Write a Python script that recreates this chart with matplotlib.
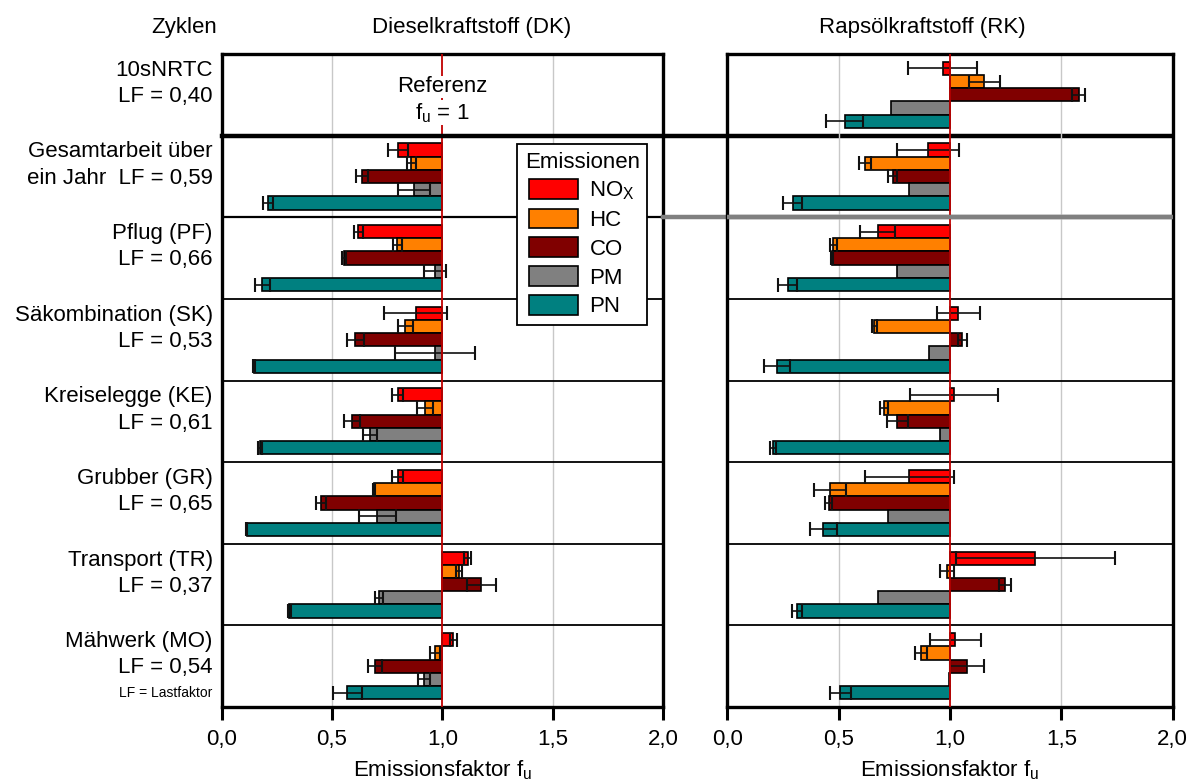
import matplotlib
matplotlib.use('Agg')
import matplotlib.pyplot as plt
import numpy as np
from matplotlib.transforms import blended_transform_factory

plt.rcParams['font.family'] = ['Liberation Sans', 'DejaVu Sans']
plt.rcParams['mathtext.fontset'] = 'custom'
plt.rcParams['mathtext.rm'] = 'Liberation Sans'
plt.rcParams['font.size'] = 16

# Zyklen (rows, top to bottom)
cycles = ['10sNRTC\nLF = 0,40', 'Gesamtarbeit über\nein Jahr  LF = 0,59',
          'Pflug (PF)\nLF = 0,66', 'Säkombination (SK)\nLF = 0,53',
          'Kreiselegge (KE)\nLF = 0,61', 'Grubber (GR)\nLF = 0,65',
          'Transport (TR)\nLF = 0,37', 'Mähwerk (MO)\nLF = 0,54']
species = ['NO$_\\mathregular{X}$', 'HC', 'CO', 'PM', 'PN']
colors = ['#ff0000', '#ff8000', '#800000', '#808080', '#008080']
nan = np.nan

# Dieselkraftstoff (DK) - first row is the reference
dk_nox = [nan, 0.80, 0.62, 0.88, 0.797, 0.797, 1.115, 1.05]
dk_nox_err = [nan, 0.045, 0.02, 0.143, 0.027, 0.023, 0.017, 0.017]
dk_hc = [nan, 0.86, 0.796, 0.832, 0.921, 0.69, 1.076, 0.967]
dk_hc_err = [nan, 0.02, 0.021, 0.035, 0.038, 0.003, 0.013, 0.024]
dk_co = [nan, 0.635, 0.554, 0.606, 0.590, 0.449, 1.177, 0.694]
dk_co_err = [nan, 0.027, 0.009, 0.039, 0.036, 0.023, 0.066, 0.032]
dk_pm = [nan, 0.87, 0.966, 0.966, 0.672, 0.705, 0.712, 0.917]
dk_pm_err = [nan, 0.072, 0.05, 0.181, 0.033, 0.084, 0.018, 0.026]
dk_pn = [nan, 0.21, 0.184, 0.146, 0.174, 0.113, 0.306, 0.570]
dk_pn_err = [nan, 0.023, 0.033, 0.004, 0.01, 0.003, 0.006, 0.064]

# Rapsölkraftstoff (RK)
rk_nox = [0.967, 0.90, 0.675, 1.037, 1.017, 0.817, 1.383, 1.024]
rk_nox_err = [0.156, 0.14, 0.079, 0.096, 0.197, 0.2, 0.357, 0.114]
rk_hc = [1.154, 0.618, 0.475, 0.66, 0.704, 0.46, 0.986, 0.87]
rk_hc_err = [0.071, 0.025, 0.016, 0.01, 0.019, 0.073, 0.032, 0.028]
rk_co = [1.577, 0.743, 0.469, 1.055, 0.763, 0.455, 1.247, 1.076]
rk_co_err = [0.029, 0.02, 0.005, 0.02, 0.048, 0.016, 0.026, 0.075]
rk_pm = [0.734, 0.817, 0.762, 0.904, 0.954, 0.722, 0.678, 0.995]
rk_pm_err = [nan, nan, nan, nan, nan, nan, nan, nan]
rk_pn = [0.527, 0.293, 0.271, 0.222, 0.206, 0.431, 0.312, 0.507]
rk_pn_err = [0.084, 0.041, 0.042, 0.058, 0.013, 0.061, 0.023, 0.047]

xticks = [0, 0.5, 1.0, 1.5, 2.0]
xticklabels = ['0,0', '0,5', '1,0', '1,5', '2,0']

dk = [(dk_nox, dk_nox_err), (dk_hc, dk_hc_err), (dk_co, dk_co_err),
      (dk_pm, dk_pm_err), (dk_pn, dk_pn_err)]
rk = [(rk_nox, rk_nox_err), (rk_hc, rk_hc_err), (rk_co, rk_co_err),
      (rk_pm, rk_pm_err), (rk_pn, rk_pn_err)]

fig = plt.figure(figsize=(11.91, 7.82), dpi=100)
ax1 = fig.add_axes([0.1861, 0.0959, 0.3706, 0.835])
ax2 = fig.add_axes([0.6107, 0.0959, 0.3740, 0.835])
ax2.patch.set_visible(False)

rows = np.arange(len(cycles))
bh = 0.162
handles = []
for ax, data in [(ax1, dk), (ax2, rk)]:
    for j, (vals, errs) in enumerate(data):
        vals = np.array(vals)
        errs = np.array(errs)
        y = rows + (j - 2) * bh
        ok = np.isfinite(vals)
        b = ax.barh(y[ok], vals[ok] - 1, left=1, height=bh, color=colors[j],
                    edgecolor='black', linewidth=1.2, zorder=3, label=species[j])
        if ax is ax1:
            handles.append(b)
        ok2 = ok & np.isfinite(errs)
        ax.errorbar(vals[ok2], y[ok2], xerr=errs[ok2], fmt='none', ecolor='#111111',
                    elinewidth=1.2, capsize=5, capthick=1.5, zorder=4)

    ax.set_xlim(0, 2)
    ax.set_ylim(7.5, -0.5)
    ax.set_yticks([])
    ax.set_xticks(xticks)
    ax.set_xticklabels(xticklabels)
    ax.tick_params(axis='x', direction='out', length=9, width=2.2, pad=7, labelsize=16)
    for s in ax.spines.values():
        s.set_linewidth(2.4)
    for gx in [0.5, 1.5]:
        ax.axvline(gx, color='#c8c8c8', lw=1.0, zorder=0)
    ax.axvline(1.0, color='#c00000', lw=1.3, zorder=5)
    for r in range(2, 8):
        if ax is ax2 and r == 2:
            continue
        ax.axhline(r - 0.5, color='black', lw=1.6 if r == 2 else 1.3, zorder=1)
    ax.set_xlabel('Emissionsfaktor f$_\\mathregular{u}$', fontsize=16, labelpad=6)

# separators below the reference row and the annual row
ax2.axhline(1.5, color='#808080', lw=3.2, zorder=6)
trans = blended_transform_factory(ax1.transAxes, ax1.transData)
ax1.plot([0, 2.154], [0.5, 0.5], color='black', lw=3.2, transform=trans,
         clip_on=False, zorder=6)
ax1.plot([1.0, 2.154], [1.5, 1.5], color='#808080', lw=3.2, transform=trans,
         clip_on=False, zorder=6)

# row labels
for i, lab in enumerate(cycles):
    ax1.text(-0.02, i - 0.14, lab, transform=trans, ha='right', va='center',
             fontsize=16, linespacing=1.33)
ax1.text(-0.02, 7.33, 'LF = Lastfaktor', transform=trans, ha='right',
         va='center', fontsize=10)

ax1.text(1.0, -0.1, 'Referenz', ha='center', va='center', fontsize=16,
         zorder=7, bbox=dict(facecolor='white', edgecolor='none', pad=0.5))
ax1.text(1.0, 0.22, 'f$_\\mathregular{u}$ = 1', ha='center', va='center',
         fontsize=16, zorder=7,
         bbox=dict(facecolor='white', edgecolor='none', pad=0.5))

fig.text(184 / 1191, 1 - 27 / 782, 'Zyklen', ha='center', va='center', fontsize=16)
fig.text(472 / 1191, 1 - 27 / 782, 'Dieselkraftstoff (DK)', ha='center',
         va='center', fontsize=16)
fig.text(922 / 1191, 1 - 27 / 782, 'Rapsölkraftstoff (RK)', ha='center',
         va='center', fontsize=16)

leg = ax1.legend(handles=handles, title='Emissionen', loc='upper left',
                 bbox_to_anchor=(0.669, 0.862), fontsize=16, title_fontsize=16,
                 fancybox=False, framealpha=1, edgecolor='black',
                 handlelength=2.2, handleheight=1.0, labelspacing=0.28,
                 borderpad=0.35, handletextpad=0.5, borderaxespad=0)
leg.get_frame().set_linewidth(1.3)
leg.set_zorder(8)

fig.savefig('out.png', dpi=100)
